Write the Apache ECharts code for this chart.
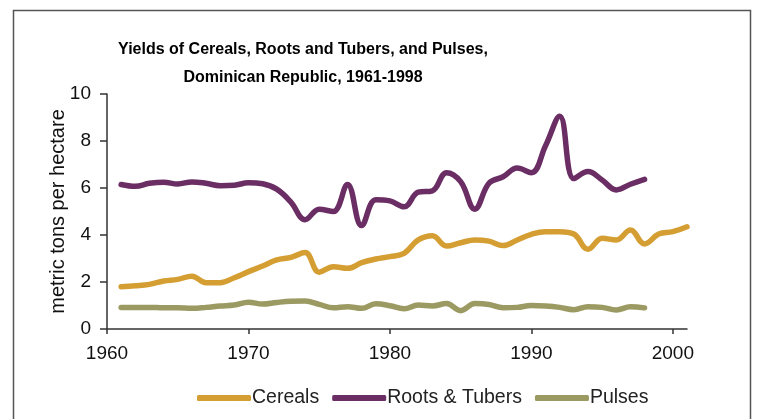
<!DOCTYPE html>
<html>
<head>
<meta charset="utf-8">
<script src="https://cdn.jsdelivr.net/npm/echarts@6/dist/echarts.min.js"></script>
<style>
html,body{margin:0;padding:0;background:#fff;}
#chart{width:757px;height:419px;}
</style>
</head>
<body>
<div id="chart"></div>
<script>
var titleLines = ['Yields of Cereals, Roots and Tubers, and Pulses,', 'Dominican Republic, 1961-1998'];
var yAxisName = 'metric tons per hectare';
var xTickLabels = [1960, 1970, 1980, 1990, 2000];
var yTickLabels = [0, 2, 4, 6, 8, 10];
var seriesNames = ['Cereals', 'Roots & Tubers', 'Pulses'];

var cerealYears = [1961,1962,1963,1964,1965,1966,1967,1968,1969,1970,1971,1972,1973,1974,1975,1976,1977,1978,1979,1980,1981,1982,1983,1984,1985,1986,1987,1988,1989,1990,1991,1992,1993,1994,1995,1996,1997,1998,1999,2000,2001];
var cereals = [1.80,1.84,1.90,2.04,2.11,2.25,1.97,1.97,2.18,2.44,2.68,2.94,3.05,3.25,2.42,2.65,2.58,2.82,2.98,3.08,3.22,3.79,3.97,3.53,3.67,3.79,3.74,3.55,3.79,4.03,4.14,4.14,4.04,3.39,3.86,3.79,4.21,3.62,4.04,4.14,4.35];

var otherYears = [1961,1962,1963,1964,1965,1966,1967,1968,1969,1970,1971,1972,1973,1974,1975,1976,1977,1978,1979,1980,1981,1982,1983,1984,1985,1986,1987,1988,1989,1990,1991,1992,1993,1994,1995,1996,1997,1998];
var roots = [6.15,6.07,6.20,6.25,6.17,6.26,6.20,6.10,6.12,6.22,6.18,5.95,5.40,4.65,5.10,5.00,6.15,4.40,5.50,5.45,5.20,5.82,5.88,6.65,6.27,5.10,6.20,6.48,6.85,6.65,7.80,9.05,6.40,6.70,6.34,5.92,6.16,6.37];
var pulses = [0.92,0.92,0.92,0.90,0.90,0.88,0.92,0.98,1.02,1.14,1.06,1.13,1.18,1.19,1.05,0.90,0.95,0.88,1.07,0.99,0.86,1.02,0.98,1.08,0.78,1.08,1.04,0.90,0.92,1.00,0.98,0.92,0.82,0.95,0.92,0.81,0.95,0.90];

function pairs(xs, ys){ return xs.map(function(x,i){ return [x, ys[i]]; }); }

var colors = ['#D49E33', '#6A2E64', '#9B9A62'];
var font = 'Liberation Sans, Arial, sans-serif';

var chart = echarts.init(document.getElementById('chart'), null, {renderer:'canvas'});
chart.setOption({
  animation: false,
  backgroundColor: '#ffffff',
  color: colors,
  textStyle: {fontFamily: font},
  title: {
    text: titleLines.join('\n'),
    left: 298,
    textAlign: 'center',
    top: 31,
    textStyle: {fontSize: 16, fontWeight: 'bold', color: '#000', lineHeight: 28, fontFamily: font}
  },
  graphic: [{
    type: 'rect',
    shape: {x: 13.5, y: 10.5, width: 737, height: 430},
    style: {fill: 'none', stroke: '#555', lineWidth: 1.5},
    silent: true
  }],
  legend: {
    left: 192,
    top: 383,
    itemWidth: 54,
    itemHeight: 6,
    itemGap: 13,
    icon: 'roundRect',
    data: seriesNames,
    textStyle: {fontSize: 19.5, color: '#222', fontFamily: font, padding: [0,0,0,-4]}
  },
  grid: {left: 107, right: 70, top: 94, bottom: 90, containLabel: false},
  xAxis: {
    type: 'value',
    min: 1960,
    max: 2001,
    interval: 10,
    axisLine: {show: true, lineStyle: {color: '#333', width: 1.5}},
    axisTick: {show: true, length: 5, inside: false, customValues: xTickLabels, lineStyle: {color: '#333', width: 1.5}},
    axisLabel: {customValues: xTickLabels, margin: 15, fontSize: 19, color: '#111', fontFamily: font,
      formatter: function(v){ return String(v); }},
    splitLine: {show: false}
  },
  yAxis: {
    type: 'value',
    min: 0,
    max: 10,
    interval: 2,
    name: yAxisName,
    nameLocation: 'middle',
    nameGap: 39,
    nameMoveOverlap: false,
    nameTextStyle: {fontSize: 20, color: '#111', fontFamily: font},
    axisLine: {show: true, lineStyle: {color: '#333', width: 1.5}},
    axisTick: {show: true, length: 7, inside: false, lineStyle: {color: '#333', width: 1.5}},
    axisLabel: {margin: 16, fontSize: 19, color: '#111', fontFamily: font},
    splitLine: {show: false}
  },
  series: [
    {name: seriesNames[0], type: 'line', data: pairs(cerealYears, cereals), smooth: 0.4, showSymbol: false, lineStyle: {width: 5.5, color: colors[0], cap: 'round', join: 'round'}},
    {name: seriesNames[1], type: 'line', data: pairs(otherYears, roots), smooth: 0.4, showSymbol: false, lineStyle: {width: 5.5, color: colors[1], cap: 'round', join: 'round'}},
    {name: seriesNames[2], type: 'line', data: pairs(otherYears, pulses), smooth: 0.4, showSymbol: false, lineStyle: {width: 5.5, color: colors[2], cap: 'round', join: 'round'}}
  ]
});
</script>
</body>
</html>
